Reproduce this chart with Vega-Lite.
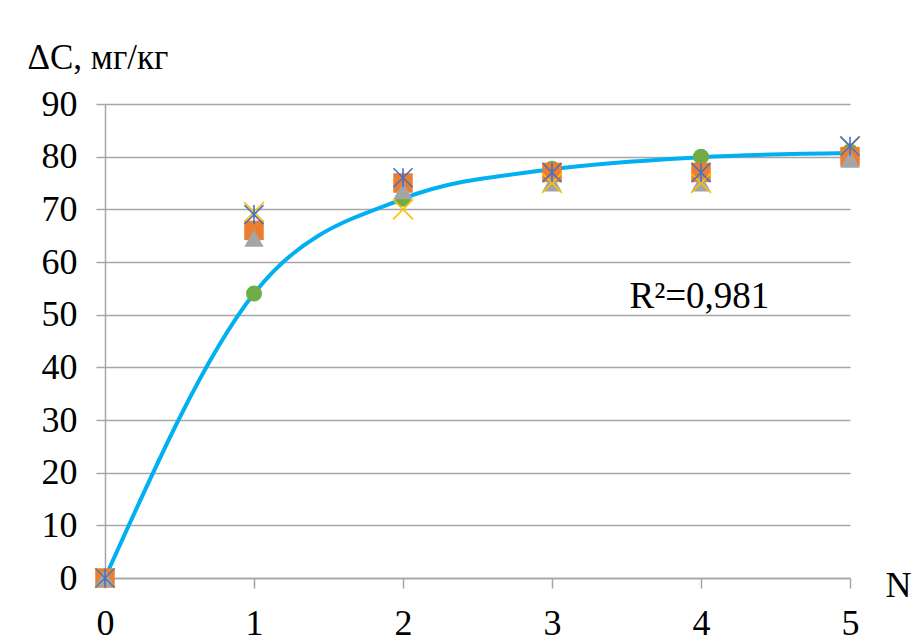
{
  "$schema": "https://vega.github.io/schema/vega-lite/v6.json",
  "width": 745,
  "height": 474,
  "autosize": {"type": "none"},
  "padding": {"left": 105, "top": 104, "right": 70, "bottom": 65},
  "background": "white",
  "config": {"view": {"stroke": null}, "font": "Liberation Serif"},
  "datasets": {
    "points": [
      {"n": 0, "dc": 0, "s": "A"}, {"n": 1, "dc": 54, "s": "A"}, {"n": 2, "dc": 72, "s": "A"}, {"n": 3, "dc": 77.7, "s": "A"}, {"n": 4, "dc": 80, "s": "A"}, {"n": 5, "dc": 81, "s": "A"},
      {"n": 0, "dc": 0, "s": "B"}, {"n": 1, "dc": 66, "s": "B"}, {"n": 2, "dc": 75, "s": "B"}, {"n": 3, "dc": 77, "s": "B"}, {"n": 4, "dc": 77, "s": "B"}, {"n": 5, "dc": 80, "s": "B"},
      {"n": 0, "dc": 0, "s": "C"}, {"n": 1, "dc": 64.5, "s": "C"}, {"n": 2, "dc": 73.5, "s": "C"}, {"n": 3, "dc": 75, "s": "C"}, {"n": 4, "dc": 75, "s": "C"}, {"n": 5, "dc": 79.5, "s": "C"},
      {"n": 0, "dc": 0, "s": "D"}, {"n": 1, "dc": 69.5, "s": "D"}, {"n": 2, "dc": 70, "s": "D"}, {"n": 3, "dc": 75, "s": "D"}, {"n": 4, "dc": 75, "s": "D"}, {"n": 5, "dc": 82, "s": "D"},
      {"n": 0, "dc": 0, "s": "E"}, {"n": 1, "dc": 69, "s": "E"}, {"n": 2, "dc": 76, "s": "E"}, {"n": 3, "dc": 77, "s": "E"}, {"n": 4, "dc": 77, "s": "E"}, {"n": 5, "dc": 82, "s": "E"}
    ],
    "trend": [
      {"n": 0, "dc": 0}, {"n": 1, "dc": 54}, {"n": 2, "dc": 72}, {"n": 3, "dc": 77.6}, {"n": 4, "dc": 79.9}, {"n": 5, "dc": 80.7}
    ],
    "label": [{"n": 3.52, "dc": 53.4, "text": "R²=0,981"}]
  },
  "layer": [
    {
      "data": {"name": "trend"},
      "mark": {"type": "line", "color": "#00B0F0", "strokeWidth": 4, "interpolate": "monotone"},
      "encoding": {
        "x": {
          "field": "n", "type": "quantitative",
          "scale": {"domain": [0, 5], "nice": false, "zero": false},
          "axis": {
            "values": [0, 1, 2, 3, 4, 5], "format": "d", "grid": false,
            "domainColor": "#A6A6A6", "domainWidth": 1.5,
            "tickColor": "#A6A6A6", "tickWidth": 1.5, "tickSize": 10,
            "labelFont": "Liberation Serif", "labelFontSize": 36, "labelColor": "#000000", "labelPadding": 18, "labelFlush": false,
            "title": "N", "titleFont": "Liberation Serif", "titleFontSize": 36, "titleFontWeight": "normal", "titleColor": "#000000",
            "titleX": 793, "titleY": 7, "titleAlign": "center", "titleBaseline": "middle"
          }
        },
        "y": {
          "field": "dc", "type": "quantitative",
          "scale": {"domain": [0, 90], "nice": false},
          "axis": {
            "values": [0, 10, 20, 30, 40, 50, 60, 70, 80, 90], "grid": true,
            "gridColor": "#A6A6A6", "gridWidth": 1.5,
            "domainColor": "#A6A6A6", "domainWidth": 1.5,
            "tickColor": "#A6A6A6", "tickWidth": 1.5, "tickSize": 9,
            "labelFont": "Liberation Serif", "labelFontSize": 36, "labelColor": "#000000", "labelPadding": 19,
            "title": "ΔC, мг/кг", "titleFont": "Liberation Serif", "titleFontSize": 35, "titleFontWeight": "normal", "titleColor": "#000000",
            "titleAngle": 0, "titleAlign": "left", "titleBaseline": "middle", "titleX": -78, "titleY": -47
          }
        }
      }
    },
    {
      "data": {"name": "points"},
      "transform": [{"filter": "datum.s === 'A'"}],
      "mark": {"type": "point", "shape": "circle", "filled": true, "color": "#70AD47", "opacity": 1, "size": 256},
      "encoding": {"x": {"field": "n", "type": "quantitative"}, "y": {"field": "dc", "type": "quantitative"}}
    },
    {
      "data": {"name": "points"},
      "transform": [{"filter": "datum.s === 'B'"}],
      "mark": {"type": "point", "shape": "square", "filled": true, "color": "#ED7D31", "opacity": 1, "size": 380},
      "encoding": {"x": {"field": "n", "type": "quantitative"}, "y": {"field": "dc", "type": "quantitative"}}
    },
    {
      "data": {"name": "points"},
      "transform": [{"filter": "datum.s === 'C'"}],
      "mark": {"type": "point", "shape": "triangle-up", "filled": true, "color": "#A5A5A5", "opacity": 1, "size": 380},
      "encoding": {"x": {"field": "n", "type": "quantitative"}, "y": {"field": "dc", "type": "quantitative"}}
    },
    {
      "data": {"name": "points"},
      "transform": [{"filter": "datum.s === 'D'"}],
      "mark": {"type": "point", "shape": "M-1,-1L1,1M1,-1L-1,1", "filled": false, "color": "#FFC000", "opacity": 1, "strokeWidth": 1.6, "size": 400},
      "encoding": {"x": {"field": "n", "type": "quantitative"}, "y": {"field": "dc", "type": "quantitative"}}
    },
    {
      "data": {"name": "points"},
      "transform": [{"filter": "datum.s === 'E'"}],
      "mark": {"type": "point", "shape": "M-1,-1L1,1M1,-1L-1,1M0,-1L0,1", "filled": false, "color": "#4472C4", "opacity": 1, "strokeWidth": 1.6, "size": 361},
      "encoding": {"x": {"field": "n", "type": "quantitative"}, "y": {"field": "dc", "type": "quantitative"}}
    },
    {
      "data": {"name": "label"},
      "mark": {"type": "text", "font": "Liberation Serif", "fontSize": 37, "align": "left", "baseline": "middle", "color": "#000000"},
      "encoding": {"x": {"field": "n", "type": "quantitative"}, "y": {"field": "dc", "type": "quantitative"}, "text": {"field": "text"}}
    }
  ]
}
